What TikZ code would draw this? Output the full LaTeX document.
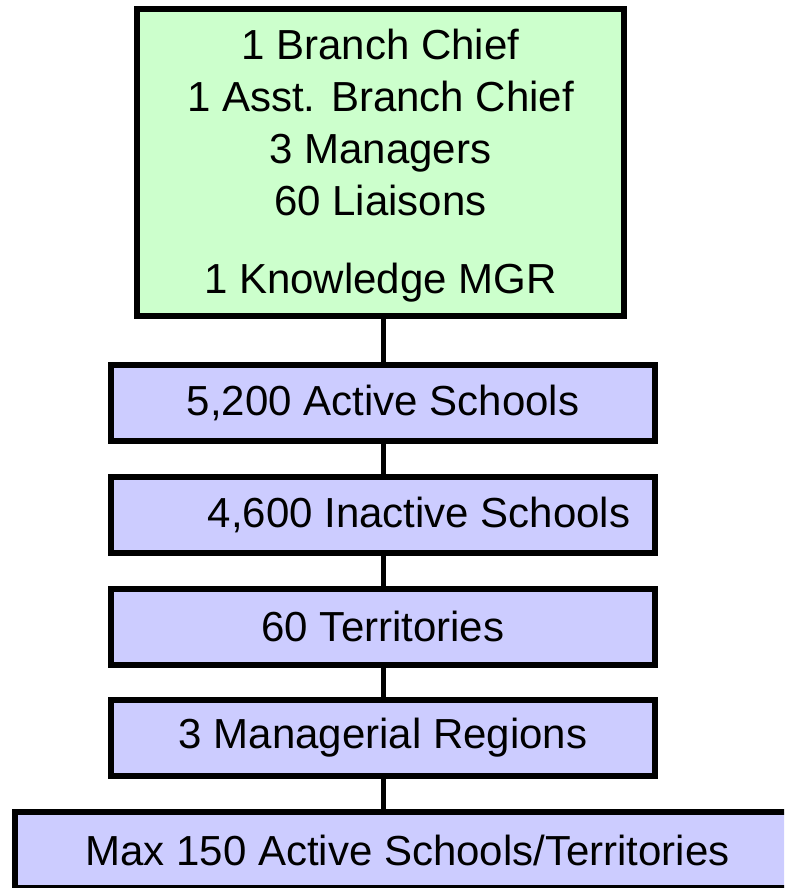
\documentclass[tikz,border=0pt]{standalone}
\usepackage{fontspec}
\setmainfont{Liberation Sans}
\usepackage{tikz}
\definecolor{staffgreen}{RGB}{204,255,204}
\definecolor{unitblue}{RGB}{204,204,255}
\tikzset{
    unit/.style={draw=black, line width=6pt, fill=unitblue, inner sep=0pt,
        minimum width=544pt, minimum height=76pt,
        font=\fontsize{42}{52}\selectfont},
    link/.style={line width=5pt},
}

\begin{document}
\begin{tikzpicture}[x=1pt,y=-1pt]
\clip (0,0) rectangle (784,888);
\node[unit, fill=staffgreen, minimum width=487pt, minimum height=307pt, align=center] (staff) at (380.5,162.5)
{\rule{0pt}{36pt}1 Branch Chief\\1 Asst. Branch Chief\\3 Managers\\60 Liaisons\\[26pt]1 Knowledge MGR};
\node[unit] (active) at (383,402.5) {5,200 Active Schools};
\node[unit] (inactive) at (383,514.5) {\hspace*{72pt}4,600 Inactive Schools};
\node[unit] (territories) at (383,626.5) {60 Territories};
\node[unit] (regions) at (383,738) {3 Managerial Regions};
\node[unit, minimum width=785pt] (maxbox) at (407.5,850) {Max 150 Active Schools/Territories};
\foreach \a/\b in {staff/active,active/inactive,inactive/territories,territories/regions,regions/maxbox} {
\draw[link] (\a.south -| active.north) -- (\b.north -| active.north);
}
\end{tikzpicture}
\end{document}
